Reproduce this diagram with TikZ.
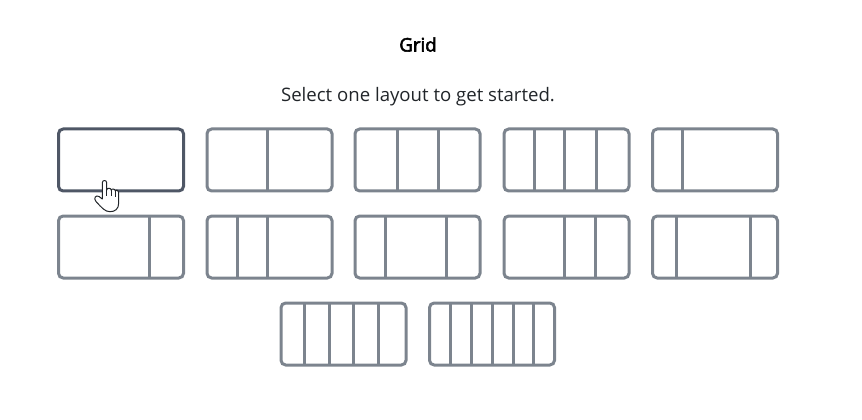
\documentclass[tikz,border=0pt]{standalone}
\usepackage{fontspec}
\setmainfont{Open Sans}
\newfontfamily\titlefont[FakeBold=3]{Open Sans}
\definecolor{boxgray}{HTML}{7C848E}
\definecolor{boxdark}{HTML}{4F5766}
\definecolor{textdark}{HTML}{212529}
\tikzset{
	layout/.style={draw=boxgray, line width=2.25pt, rounded corners=3.5pt, inner sep=0pt, outer sep=0pt, minimum width=93.75pt, minimum height=46.5pt},
	divider/.style={draw=boxgray, line width=2.25pt},
}

\begin{document}
\begin{tikzpicture}[x=0.75pt,y=-0.75pt]
	\useasboundingbox (0, 0) rectangle (862, 420);
	\node[font=\fontsize{14pt}{16pt}\selectfont\titlefont, text=black, inner sep=0pt, anchor=base] at (418, 51.5) (title) {Grid};
	\node[font=\fontsize{13.95pt}{17pt}\selectfont, text=textdark, inner sep=0pt, anchor=base] at (418, 101.3) (subtitle) {Select one layout to get started.};
	% first one is selected
	\node[layout, draw=boxdark] at (121, 160) (one) {};
	\foreach \name/\cx/\cy/\cuts in {
		halves/269.5/160/{60.5},
		thirds/417.5/160/{42.5,83.5},
		fourths/566.5/160/{30.5,60.5,92.5},
		narrowwide/715/160/{30},
		widenarrow/121/247/{91},
		narrownarrowwide/269.5/247/{30.5,60.5},
		narrowwidenarrow/417.5/247/{30.5,91.5},
		widenarrownarrow/566.5/247/{60.5,91.5},
		sidebars/715/247/{24,98},
		fifths/343.5/334/{23.5,48.5,72.5,97.5},
		sixths/492/334/{21,42,63,84,104}%
	} {
		\node[layout] at (\cx, \cy) (\name) {};
		\foreach \cut in \cuts {
			\draw[divider] ([xshift=\cut*0.75pt]\name.north west) -- ([xshift=\cut*0.75pt]\name.south west);
		}
	}
	% hand cursor
	\draw[fill=white, draw=textdark, line width=0.75pt, line join=round]
		(102.3, 199) -- (102.3, 182.7) .. controls (102.3, 179.8) and (106.7, 179.8) .. (106.7, 182.7)
		-- (106.7, 190) .. controls (106.7, 187.6) and (111.3, 187.6) .. (111.3, 190.3)
		.. controls (111.3, 188.4) and (115.3, 188.6) .. (115.3, 191)
		.. controls (115.3, 189.4) and (118.7, 189.6) .. (118.7, 192)
		-- (118.7, 203) .. controls (118.7, 209) and (115, 211.7) .. (110, 211.7)
		.. controls (105, 211.7) and (102, 208) .. (96, 201.5)
		.. controls (93.3, 198.5) and (95.5, 194.5) .. (99, 196.5) -- cycle;
	\draw[draw=textdark, line width=0.75pt] (106.7, 190) -- (106.7, 196.5) (111.3, 190.3) -- (111.3, 196.5) (115.3, 191) -- (115.3, 197);
\end{tikzpicture}
\end{document}
